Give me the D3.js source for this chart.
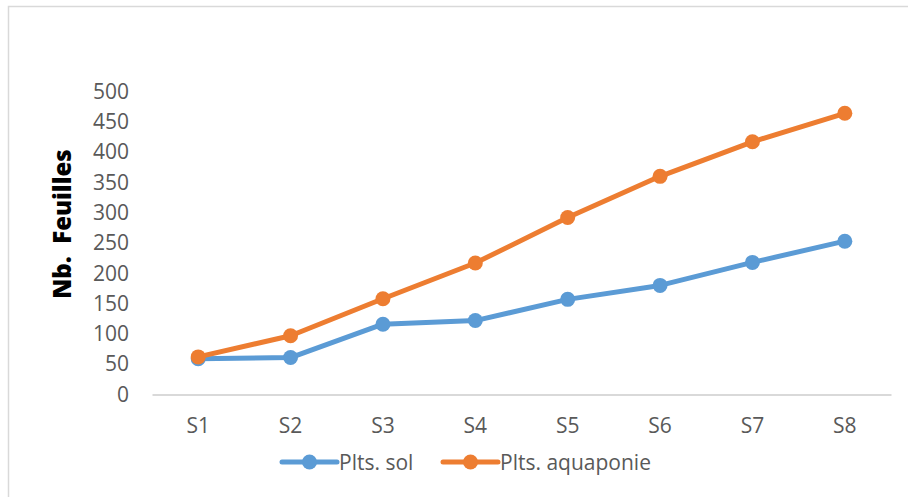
<!DOCTYPE html>
<html><head><meta charset="utf-8">
<script src="https://cdn.jsdelivr.net/npm/d3@7"></script>
<style>html,body{margin:0;padding:0;background:#fff;}svg{display:block;}</style>
</head><body><svg id="c" width="908" height="497"></svg>
<script>
const categories = ["S1","S2","S3","S4","S5","S6","S7","S8"];
const solValues = [59, 61, 116, 122, 157, 180, 218, 253];
const aquaValues = [62, 97, 158, 217, 292, 360, 417, 464];
const yTicks = [0,50,100,150,200,250,300,350,400,450,500];
const seriesNames = ["Plts. sol", "Plts. aquaponie"];
const colors = ["#5B9BD5", "#ED7D31"];

const svg = d3.select("#c");
const font = "'Open Sans', sans-serif";

svg.append("rect").attr("x",8.5).attr("y",6.5).attr("width",950).attr("height",550)
  .attr("fill","none").attr("stroke","#d9d9d9").attr("stroke-width",1.5);

const x = d3.scaleBand().domain(categories).range([152, 891]);
const y = d3.scaleLinear().domain([0, 500]).range([394.5, 91.5]);

// y tick labels
const yAxis = d3.axisLeft(y).tickValues(yTicks).tickSize(0).tickPadding(0);
const gy = svg.append("g").attr("transform","translate(129,0)").call(yAxis);
gy.select(".domain").remove();
gy.selectAll("text").attr("font-family",font).attr("font-size",21).attr("fill","#595959");

// x axis
const xAxis = d3.axisBottom(x).tickSize(0).tickPadding(0);
const gx = svg.append("g").attr("transform","translate(0,394.5)").call(xAxis);
gx.select(".domain").attr("stroke","#d9d9d9").attr("stroke-width",2);
gx.selectAll("text").attr("font-family",font).attr("font-size",21).attr("fill","#595959")
  .attr("dy",0).attr("y",38);

// title
svg.append("text").attr("transform","translate(71,224) rotate(-90)")
  .attr("text-anchor","middle").attr("font-family",font).attr("font-weight",800)
  .attr("font-size",24).attr("fill","#000").style("white-space","pre").text("Nb.  Feuilles");

const data = [solValues, aquaValues];
const line = d3.line().x((d,i)=>x(categories[i]) + x.bandwidth()/2).y(d=>y(d));
data.forEach((vals, k) => {
  const g = svg.append("g");
  g.append("path").datum(vals).attr("d", line).attr("fill","none")
    .attr("stroke", colors[k]).attr("stroke-width",5).attr("stroke-linejoin","round").attr("stroke-linecap","round");
  g.selectAll("circle").data(vals).join("circle")
    .attr("cx",(d,i)=>x(categories[i]) + x.bandwidth()/2).attr("cy",d=>y(d)).attr("r",7.5)
    .attr("fill", colors[k]);
});

// legend
const legendX = [282, 443];
seriesNames.forEach((name,k)=>{
  const g = svg.append("g").attr("transform",`translate(${legendX[k]},462)`);
  g.append("line").attr("x1",0).attr("x2",55).attr("y1",0).attr("y2",0)
    .attr("stroke",colors[k]).attr("stroke-width",5).attr("stroke-linecap","round");
  g.append("circle").attr("cx",27.5).attr("cy",0).attr("r",7.5).attr("fill",colors[k]);
  g.append("text").attr("x",57).attr("y",7.5).attr("font-family",font).attr("font-size",21)
    .attr("fill","#595959").text(name);
});
</script></body></html>
